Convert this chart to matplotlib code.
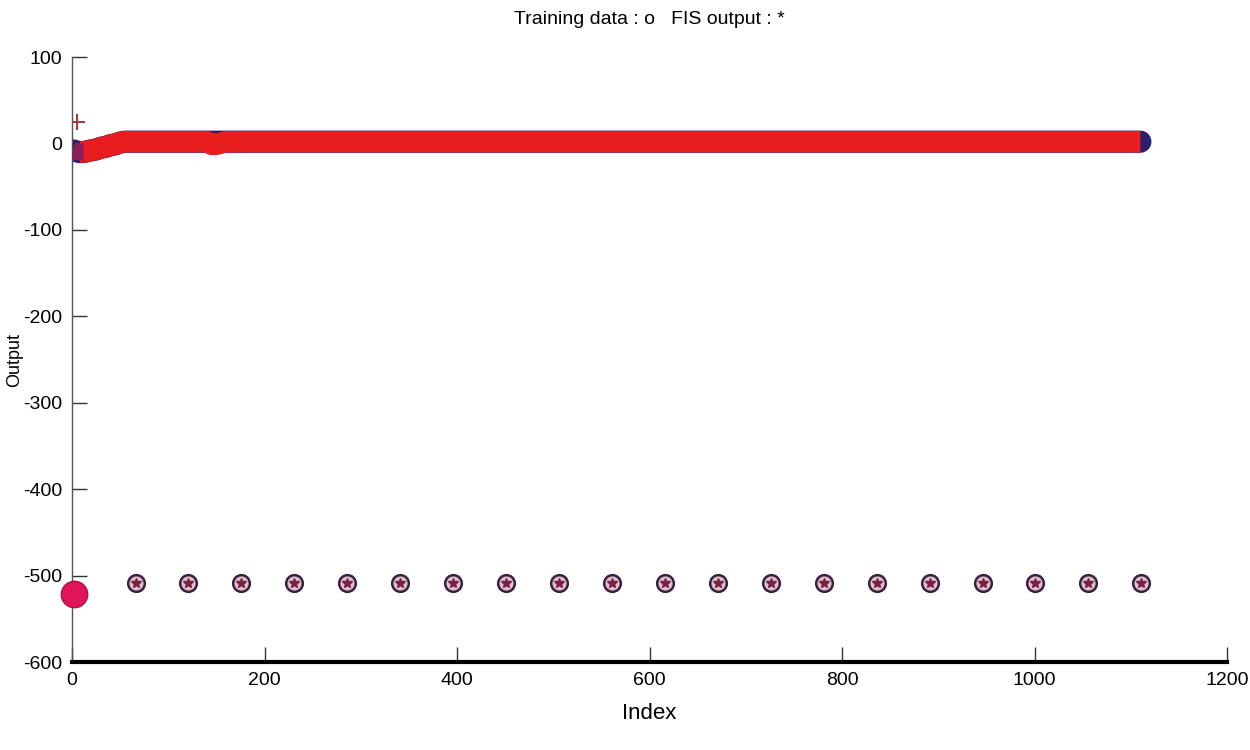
import matplotlib.pyplot as plt

plt.rcParams['font.family'] = ['Liberation Sans', 'DejaVu Sans']
plt.rcParams['axes.unicode_minus'] = False

# main series (sampled), training data and FIS output sit on top of each other
main_idx = [1, 4, 8, 12, 16, 20, 25, 30, 35, 40, 45, 50, 55, 60, 80, 100, 120, 140,
            145, 150, 160, 200, 250, 300, 350, 400, 450, 500, 550, 600, 650, 700, 750,
            800, 850, 900, 950, 1000, 1050, 1100, 1110]
train_val = [-8, -9, -10, -10, -9, -8, -7, -5, -4, -2, -1, 1, 2, 2, 2, 2, 2, 2,
             2, 2, 2, 2, 2, 2, 2, 2, 2, 2, 2, 2, 2, 2, 2,
             2, 2, 2, 2, 2, 2, 2, 2]
fis_val = [-8, -9, -10, -10, -9, -8, -7, -5, -4, -2, -1, 1, 2, 2, 2, 2, 2, 2,
           -1, -1, 2, 2, 2, 2, 2, 2, 2, 2, 2, 2, 2, 2, 2,
           2, 2, 2, 2, 2, 2, 2, 2]

# FIS spike near the start
spike_idx = [5]
spike_val = [25]

# periodic outliers
out_idx = [66, 121, 176, 231, 286, 341, 396, 451, 506, 561, 616, 671, 726,
           781, 836, 891, 946, 1001, 1056, 1111]
out_val = [-508] * len(out_idx)
first_idx = [2]
first_val = [-521]

fig = plt.figure(figsize=(12.5, 7.5), dpi=100)
ax = fig.add_axes([0.0576, 0.1173, 0.924, 0.8067])

# thick band for the dense markers
ax.plot(main_idx, train_val, '-', color='#2a1f6e', lw=16, solid_capstyle='round', zorder=2)
ax.plot(main_idx[2:], fis_val[2:], '-', color='#e81e1e', lw=15.5, solid_capstyle='butt', zorder=3)
ax.plot(main_idx[:4], fis_val[:4], '-', color='#8a1f5a', lw=12, solid_capstyle='butt', zorder=3)
ax.plot(spike_idx, spike_val, marker='+', color='#a0403a', ms=12, mew=1.5, ls='none', zorder=4)

ax.plot(out_idx, out_val, 'o', mfc='#dcc0cc', mec='#3a2040', ms=12, mew=1.8, ls='none', zorder=4)
ax.plot(out_idx, out_val, '*', color='#7a2040', ms=7, ls='none', zorder=5)
ax.plot(first_idx, first_val, 'o', color='#e0145a', mec='#b01040', ms=19, ls='none',
        zorder=5, clip_on=False)

ax.set_xlim(0, 1200)
ax.set_ylim(-600, 100)
ax.set_xticks(range(0, 1201, 200))
ax.set_yticks(range(-600, 101, 100))

for s in ['top', 'right']:
    ax.spines[s].set_visible(False)
ax.spines['bottom'].set_linewidth(3)
ax.spines['left'].set_linewidth(1)
ax.spines['left'].set_color('#555555')
ax.tick_params(direction='in', length=11, width=1, color='#333333', labelsize=14, pad=7)

ax.set_title('Training data : o   FIS output : *', fontsize=14, pad=24)
ax.set_xlabel('Index', fontsize=16, labelpad=10)
ax.set_ylabel('Output', fontsize=13)
ax.yaxis.set_label_coords(-0.042, 0.5)

fig.savefig('out.png', dpi=100)
